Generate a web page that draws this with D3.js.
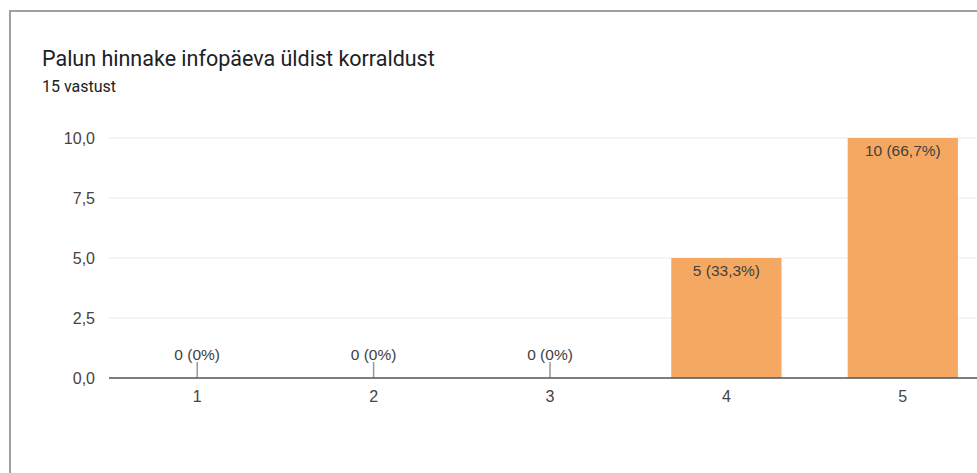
<!DOCTYPE html>
<html>
<head>
<meta charset="utf-8">
<script src="https://cdn.jsdelivr.net/npm/d3@7"></script>
<style>
  html, body { margin: 0; padding: 0; background: #fff; }
  svg { display: block; font-family: Roboto, Arial, sans-serif; }
</style>
</head>
<body>
<svg id="chart" width="977" height="473"></svg>
<script>
// Response counts per rating
const categories = ["1", "2", "3", "4", "5"];
const counts = [0, 0, 0, 5, 10];
const percentLabels = ["0%", "0%", "0%", "33,3%", "66,7%"];
const yTicks = [0, 2.5, 5, 7.5, 10];
const titleText = "Palun hinnake infopäeva üldist korraldust";
const subtitleText = "15 vastust";

const chartFont = "'Liberation Sans', Arial, sans-serif";
const svg = d3.select("#chart");

// Card frame
svg.append("rect")
  .attr("x", 10).attr("y", 11)
  .attr("width", 1000).attr("height", 500)
  .attr("fill", "none")
  .attr("stroke", "#a0a0a0")
  .attr("stroke-width", 2);

svg.append("text")
  .attr("x", 42).attr("y", 66)
  .attr("font-size", 21.5)
  .attr("fill", "#202124")
  .text(titleText);

svg.append("text")
  .attr("x", 42).attr("y", 92)
  .attr("font-size", 16)
  .attr("fill", "#202124")
  .text(subtitleText);

const plot = { left: 109, right: 991, top: 138, bottom: 378 };

const x = d3.scaleBand()
  .domain(categories)
  .range([plot.left, plot.right])
  .paddingInner(0.375)
  .paddingOuter(0.1875);

const y = d3.scaleLinear()
  .domain([0, 10])
  .range([plot.bottom, plot.top]);

// Horizontal gridlines
svg.append("g")
  .selectAll("line")
  .data(yTicks)
  .join("line")
  .attr("x1", plot.left).attr("x2", 977)
  .attr("y1", d => y(d)).attr("y2", d => y(d))
  .attr("stroke", "#ebebeb")
  .attr("stroke-width", 1);

// Y axis labels
const yAxis = d3.axisLeft(y)
  .tickValues(yTicks)
  .tickSize(0)
  .tickPadding(14)
  .tickFormat(d => d3.format(".1f")(d).replace(".", ","));

svg.append("g")
  .attr("transform", `translate(${plot.left},0)`)
  .call(yAxis)
  .call(g => g.select(".domain").remove())
  .call(g => g.selectAll("text")
    .attr("font-size", 16)
    .attr("font-family", chartFont)
    .attr("fill", "#444"));

const data = categories.map((c, i) => ({ c, v: counts[i], p: percentLabels[i] }));

// Bars
svg.append("g")
  .selectAll("rect")
  .data(data.filter(d => d.v > 0))
  .join("rect")
  .attr("x", d => x(d.c))
  .attr("y", d => y(d.v))
  .attr("width", x.bandwidth())
  .attr("height", d => y(0) - y(d.v))
  .attr("fill", "#f5a862");

// Stub markers for empty categories
svg.append("g")
  .selectAll("line")
  .data(data.filter(d => d.v === 0))
  .join("line")
  .attr("x1", d => x(d.c) + x.bandwidth() / 2)
  .attr("x2", d => x(d.c) + x.bandwidth() / 2)
  .attr("y1", y(0) - 16).attr("y2", y(0))
  .attr("stroke", "#999")
  .attr("stroke-width", 1.5);

// Value labels
svg.append("g")
  .selectAll("text")
  .data(data)
  .join("text")
  .attr("x", d => x(d.c) + x.bandwidth() / 2)
  .attr("y", d => d.v > 0 ? y(d.v) + 18 : y(0) - 18)
  .attr("text-anchor", "middle")
  .attr("font-size", 15.5)
  .attr("font-family", chartFont)
  .attr("fill", "#404040")
  .text(d => `${d.v} (${d.p})`);

// X axis
const xAxis = d3.axisBottom(x).tickSize(0).tickPadding(13);
svg.append("g")
  .attr("transform", `translate(0,${plot.bottom})`)
  .call(xAxis)
  .call(g => g.select(".domain").remove())
  .call(g => g.selectAll("text")
    .attr("font-size", 16)
    .attr("font-family", chartFont)
    .attr("fill", "#444"));

svg.append("line")
  .attr("x1", plot.left).attr("x2", 977)
  .attr("y1", plot.bottom).attr("y2", plot.bottom)
  .attr("stroke", "#555")
  .attr("stroke-width", 1.5);
</script>
</body>
</html>
